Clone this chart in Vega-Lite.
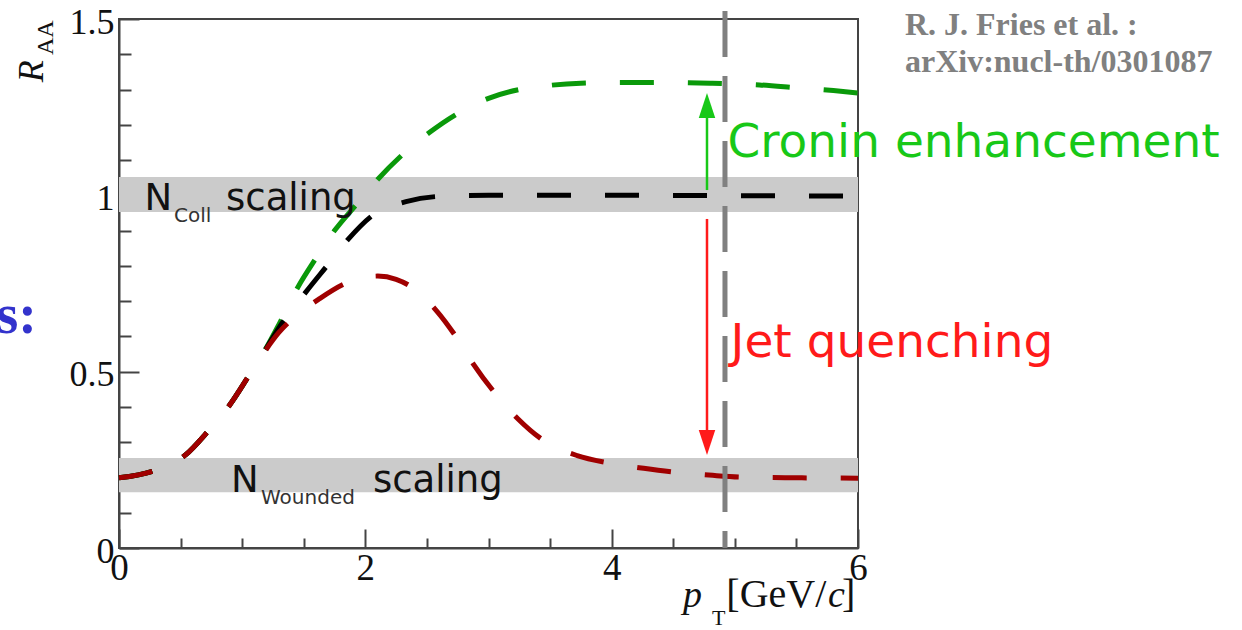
{
  "$schema": "https://vega.github.io/schema/vega-lite/v6.json",
  "width": 739,
  "height": 529,
  "autosize": {"type": "none"},
  "padding": {"left": 119, "top": 19, "right": 384, "bottom": 82},
  "background": "white",
  "config": {
    "view": {"stroke": "#444444", "strokeWidth": 2},
    "axis": {"grid": false, "domainColor": "#444444", "domainWidth": 2, "tickColor": "#444444", "tickWidth": 2, "labelFont": "Liberation Serif", "labelColor": "#111111", "title": null, "labelFlush": false, "labelOverlap": false}
  },
  "datasets": {
    "bands": [
      {"band": "coll", "x0": 0, "x1": 6, "y0": 0.953, "y1": 1.052},
      {"band": "wounded", "x0": 0, "x1": 6, "y0": 0.158, "y1": 0.255}
    ],
    "curves": [
      {"s": "cronin", "x": 0, "y": 0.199}, {"s": "cronin", "x": 0.29, "y": 0.22}, {"s": "cronin", "x": 0.54, "y": 0.264}, {"s": "cronin", "x": 0.72, "y": 0.33}, {"s": "cronin", "x": 0.9, "y": 0.406}, {"s": "cronin", "x": 1.05, "y": 0.486}, {"s": "cronin", "x": 1.15, "y": 0.54}, {"s": "cronin", "x": 1.3, "y": 0.635}, {"s": "cronin", "x": 1.45, "y": 0.738}, {"s": "cronin", "x": 1.6, "y": 0.822}, {"s": "cronin", "x": 1.75, "y": 0.9}, {"s": "cronin", "x": 1.93, "y": 0.975}, {"s": "cronin", "x": 2.1, "y": 1.045}, {"s": "cronin", "x": 2.3, "y": 1.115}, {"s": "cronin", "x": 2.52, "y": 1.178}, {"s": "cronin", "x": 2.75, "y": 1.232}, {"s": "cronin", "x": 3.0, "y": 1.275}, {"s": "cronin", "x": 3.25, "y": 1.3}, {"s": "cronin", "x": 3.5, "y": 1.312}, {"s": "cronin", "x": 3.75, "y": 1.318}, {"s": "cronin", "x": 4.1, "y": 1.32}, {"s": "cronin", "x": 4.4, "y": 1.32}, {"s": "cronin", "x": 4.8, "y": 1.318}, {"s": "cronin", "x": 5.2, "y": 1.313}, {"s": "cronin", "x": 5.5, "y": 1.305}, {"s": "cronin", "x": 5.8, "y": 1.297}, {"s": "cronin", "x": 6.0, "y": 1.29},
      {"s": "ncoll", "x": 0, "y": 0.199}, {"s": "ncoll", "x": 0.29, "y": 0.22}, {"s": "ncoll", "x": 0.54, "y": 0.264}, {"s": "ncoll", "x": 0.72, "y": 0.33}, {"s": "ncoll", "x": 0.9, "y": 0.406}, {"s": "ncoll", "x": 1.05, "y": 0.486}, {"s": "ncoll", "x": 1.15, "y": 0.54}, {"s": "ncoll", "x": 1.3, "y": 0.625}, {"s": "ncoll", "x": 1.52, "y": 0.727}, {"s": "ncoll", "x": 1.7, "y": 0.805}, {"s": "ncoll", "x": 1.86, "y": 0.875}, {"s": "ncoll", "x": 2.07, "y": 0.946}, {"s": "ncoll", "x": 2.33, "y": 0.982}, {"s": "ncoll", "x": 2.6, "y": 0.997}, {"s": "ncoll", "x": 3.0, "y": 1.0}, {"s": "ncoll", "x": 4.0, "y": 1.0}, {"s": "ncoll", "x": 5.0, "y": 0.999}, {"s": "ncoll", "x": 6.0, "y": 0.998},
      {"s": "nwound", "x": 0, "y": 0.199}, {"s": "nwound", "x": 0.29, "y": 0.22}, {"s": "nwound", "x": 0.54, "y": 0.264}, {"s": "nwound", "x": 0.72, "y": 0.33}, {"s": "nwound", "x": 0.9, "y": 0.406}, {"s": "nwound", "x": 1.05, "y": 0.486}, {"s": "nwound", "x": 1.15, "y": 0.54}, {"s": "nwound", "x": 1.3, "y": 0.612}, {"s": "nwound", "x": 1.45, "y": 0.662}, {"s": "nwound", "x": 1.62, "y": 0.705}, {"s": "nwound", "x": 1.85, "y": 0.752}, {"s": "nwound", "x": 2.1, "y": 0.771}, {"s": "nwound", "x": 2.25, "y": 0.762}, {"s": "nwound", "x": 2.38, "y": 0.739}, {"s": "nwound", "x": 2.58, "y": 0.672}, {"s": "nwound", "x": 2.75, "y": 0.592}, {"s": "nwound", "x": 2.88, "y": 0.52}, {"s": "nwound", "x": 3.06, "y": 0.436}, {"s": "nwound", "x": 3.24, "y": 0.366}, {"s": "nwound", "x": 3.46, "y": 0.302}, {"s": "nwound", "x": 3.72, "y": 0.262}, {"s": "nwound", "x": 3.98, "y": 0.241}, {"s": "nwound", "x": 4.26, "y": 0.226}, {"s": "nwound", "x": 4.54, "y": 0.214}, {"s": "nwound", "x": 4.82, "y": 0.206}, {"s": "nwound", "x": 5.07, "y": 0.201}, {"s": "nwound", "x": 5.5, "y": 0.199}, {"s": "nwound", "x": 6.0, "y": 0.198}
    ],
    "refline": [{"x": 4.92, "y": 1.523, "y2": 0.0}],
    "arrows": [
      {"a": "cronin", "x": 4.774, "y": 1.015, "y2": 1.225, "tip": 1.29},
      {"a": "jet", "x": 4.774, "y": 0.933, "y2": 0.33, "tip": 0.264}
    ],
    "texts": [
      {"g": "main", "t": "N", "x": 0.207, "y": 0.958},
      {"g": "main", "t": "scaling", "x": 0.869, "y": 0.958},
      {"g": "main", "t": "N", "x": 0.909, "y": 0.159},
      {"g": "main", "t": "scaling", "x": 2.062, "y": 0.159},
      {"g": "sub", "t": "Coll", "x": 0.447, "y": 0.924},
      {"g": "sub", "t": "Wounded", "x": 1.153, "y": 0.125},
      {"g": "cronin", "t": "Cronin enhancement", "x": 4.94, "y": 1.109},
      {"g": "jet", "t": "Jet quenching", "x": 4.965, "y": 0.542},
      {"g": "ref", "t": "R. J. Fries et al. :", "x": 6.381, "y": 1.455},
      {"g": "ref", "t": "arXiv:nucl-th/0301087", "x": 6.381, "y": 1.35},
      {"g": "blue", "t": "ss:", "x": -0.666, "y": 0.61},
      {"g": "ytitle", "t": "R", "x": -0.617, "y": 1.321},
      {"g": "ytitlesub", "t": "AA", "x": -0.536, "y": 1.398},
      {"g": "xital", "t": "p", "x": 4.579, "y": -0.1673},
      {"g": "xital", "t": "c", "x": 5.756, "y": -0.1673},
      {"g": "xreg", "t": "[GeV/", "x": 4.931, "y": -0.1673},
      {"g": "xreg", "t": "]", "x": 5.87, "y": -0.1673},
      {"g": "xsub", "t": "T", "x": 4.815, "y": -0.218}
    ]
  },
  "layer": [
    {
      "data": {"name": "bands"},
      "mark": {"type": "rect", "color": "#cbcbcb"},
      "encoding": {
        "x": {"field": "x0", "type": "quantitative", "scale": {"domain": [0, 6], "nice": false, "zero": false},
              "axis": {"orient": "bottom", "values": [0, 2, 4, 6], "ticks": false, "domain": true, "labelFontSize": 37, "labelPadding": 2, "format": "~g"}},
        "x2": {"field": "x1"},
        "y": {"field": "y0", "type": "quantitative", "scale": {"domain": [0, 1.5], "nice": false, "zero": false},
              "axis": {"orient": "left", "values": [0, 0.5, 1, 1.5], "ticks": false, "domain": true, "labelFontSize": 36, "labelPadding": 5, "labelOffset": 3, "format": "~g"}},
        "y2": {"field": "y1"}
      }
    },
    {
      "data": {"name": "curves"},
      "transform": [{"filter": "datum.s == 'cronin'"}],
      "mark": {"type": "line", "interpolate": "monotone", "color": "#0a990a", "strokeWidth": 5, "strokeDash": [34, 34]},
      "encoding": {
        "x": {"field": "x", "type": "quantitative", "scale": {"domain": [0, 6], "nice": false, "zero": false},
              "axis": {"orient": "bottom", "values": [0, 2, 4, 6], "labels": false, "domain": false, "tickSize": -19}},
        "y": {"field": "y", "type": "quantitative", "scale": {"domain": [0, 1.5], "nice": false, "zero": false},
              "axis": {"orient": "left", "values": [0, 0.5, 1, 1.5], "labels": false, "domain": false, "tickSize": -20}}
      }
    },
    {
      "data": {"name": "curves"},
      "transform": [{"filter": "datum.s == 'ncoll'"}],
      "mark": {"type": "line", "interpolate": "monotone", "color": "#000000", "strokeWidth": 5, "strokeDash": [34, 34]},
      "encoding": {
        "x": {"field": "x", "type": "quantitative", "scale": {"domain": [0, 6], "nice": false, "zero": false},
              "axis": {"orient": "bottom", "values": [0.5, 1, 1.5, 2.5, 3, 3.5, 4.5, 5, 5.5], "labels": false, "domain": false, "tickSize": -10}},
        "y": {"field": "y", "type": "quantitative", "scale": {"domain": [0, 1.5], "nice": false, "zero": false},
              "axis": {"orient": "left", "values": [0.1, 0.2, 0.3, 0.4, 0.6, 0.7, 0.8, 0.9, 1.1, 1.2, 1.3, 1.4], "labels": false, "domain": false, "tickSize": -12}}
      }
    },
    {
      "data": {"name": "curves"},
      "transform": [{"filter": "datum.s == 'nwound'"}],
      "mark": {"type": "line", "interpolate": "monotone", "color": "#a00000", "strokeWidth": 5, "strokeDash": [34, 34]},
      "encoding": {
        "x": {"field": "x", "type": "quantitative", "axis": null},
        "y": {"field": "y", "type": "quantitative", "axis": null}
      }
    },
    {
      "data": {"name": "refline"},
      "mark": {"type": "rule", "color": "#808080", "strokeWidth": 5, "strokeDash": [46, 19]},
      "encoding": {
        "x": {"field": "x", "type": "quantitative", "axis": null},
        "y": {"field": "y", "type": "quantitative", "axis": null},
        "y2": {"field": "y2"}
      }
    },
    {
      "data": {"name": "arrows"},
      "transform": [{"filter": "datum.a == 'cronin'"}],
      "layer": [
        {"mark": {"type": "rule", "color": "#18c818", "strokeWidth": 2.5},
         "encoding": {"x": {"field": "x", "type": "quantitative", "axis": null}, "y": {"field": "y", "type": "quantitative", "axis": null}, "y2": {"field": "y2"}}},
        {"mark": {"type": "point", "shape": "M0,0L-0.33,1L0.33,1Z", "filled": true, "color": "#18c818", "opacity": 1, "size": 2500, "strokeWidth": 0},
         "encoding": {"x": {"field": "x", "type": "quantitative", "axis": null}, "y": {"field": "tip", "type": "quantitative", "axis": null}}}
      ]
    },
    {
      "data": {"name": "arrows"},
      "transform": [{"filter": "datum.a == 'jet'"}],
      "layer": [
        {"mark": {"type": "rule", "color": "#ff1a1a", "strokeWidth": 2.5},
         "encoding": {"x": {"field": "x", "type": "quantitative", "axis": null}, "y": {"field": "y", "type": "quantitative", "axis": null}, "y2": {"field": "y2"}}},
        {"mark": {"type": "point", "shape": "M0,0L-0.33,-1L0.33,-1Z", "filled": true, "color": "#ff1a1a", "opacity": 1, "size": 2500, "strokeWidth": 0},
         "encoding": {"x": {"field": "x", "type": "quantitative", "axis": null}, "y": {"field": "tip", "type": "quantitative", "axis": null}}}
      ]
    },
    {
      "data": {"name": "texts"},
      "transform": [{"filter": "datum.g == 'main'"}],
      "mark": {"type": "text", "font": "DejaVu Sans", "fontSize": 37, "color": "#111111", "align": "left", "baseline": "alphabetic"},
      "encoding": {"x": {"field": "x", "type": "quantitative", "axis": null}, "y": {"field": "y", "type": "quantitative", "axis": null}, "text": {"field": "t"}}
    },
    {
      "data": {"name": "texts"},
      "transform": [{"filter": "datum.g == 'sub'"}],
      "mark": {"type": "text", "font": "DejaVu Sans", "fontSize": 20, "color": "#333333", "align": "left", "baseline": "alphabetic"},
      "encoding": {"x": {"field": "x", "type": "quantitative", "axis": null}, "y": {"field": "y", "type": "quantitative", "axis": null}, "text": {"field": "t"}}
    },
    {
      "data": {"name": "texts"},
      "transform": [{"filter": "datum.g == 'cronin'"}],
      "mark": {"type": "text", "font": "DejaVu Sans", "fontSize": 47, "color": "#18c818", "align": "left", "baseline": "alphabetic"},
      "encoding": {"x": {"field": "x", "type": "quantitative", "axis": null}, "y": {"field": "y", "type": "quantitative", "axis": null}, "text": {"field": "t"}}
    },
    {
      "data": {"name": "texts"},
      "transform": [{"filter": "datum.g == 'jet'"}],
      "mark": {"type": "text", "font": "DejaVu Sans", "fontSize": 47, "color": "#ff1a1a", "align": "left", "baseline": "alphabetic"},
      "encoding": {"x": {"field": "x", "type": "quantitative", "axis": null}, "y": {"field": "y", "type": "quantitative", "axis": null}, "text": {"field": "t"}}
    },
    {
      "data": {"name": "texts"},
      "transform": [{"filter": "datum.g == 'ref'"}],
      "mark": {"type": "text", "font": "Liberation Serif", "fontWeight": "bold", "fontSize": 32, "color": "#808080", "align": "left", "baseline": "alphabetic"},
      "encoding": {"x": {"field": "x", "type": "quantitative", "axis": null}, "y": {"field": "y", "type": "quantitative", "axis": null}, "text": {"field": "t"}}
    },
    {
      "data": {"name": "texts"},
      "transform": [{"filter": "datum.g == 'blue'"}],
      "mark": {"type": "text", "font": "Liberation Serif", "fontWeight": "bold", "fontSize": 56, "color": "#3333cc", "align": "right", "baseline": "alphabetic"},
      "encoding": {"x": {"field": "x", "type": "quantitative", "axis": null}, "y": {"field": "y", "type": "quantitative", "axis": null}, "text": {"field": "t"}}
    },
    {
      "data": {"name": "texts"},
      "transform": [{"filter": "datum.g == 'ytitle'"}],
      "mark": {"type": "text", "font": "Liberation Serif", "fontStyle": "italic", "fontSize": 36, "color": "#111111", "align": "left", "baseline": "alphabetic", "angle": 270},
      "encoding": {"x": {"field": "x", "type": "quantitative", "axis": null}, "y": {"field": "y", "type": "quantitative", "axis": null}, "text": {"field": "t"}}
    },
    {
      "data": {"name": "texts"},
      "transform": [{"filter": "datum.g == 'ytitlesub'"}],
      "mark": {"type": "text", "font": "Liberation Serif", "fontSize": 24, "color": "#111111", "align": "left", "baseline": "alphabetic", "angle": 270},
      "encoding": {"x": {"field": "x", "type": "quantitative", "axis": null}, "y": {"field": "y", "type": "quantitative", "axis": null}, "text": {"field": "t"}}
    },
    {
      "data": {"name": "texts"},
      "transform": [{"filter": "datum.g == 'xital'"}],
      "mark": {"type": "text", "font": "Liberation Serif", "fontStyle": "italic", "fontSize": 38, "color": "#111111", "align": "left", "baseline": "alphabetic"},
      "encoding": {"x": {"field": "x", "type": "quantitative", "axis": null}, "y": {"field": "y", "type": "quantitative", "axis": null}, "text": {"field": "t"}}
    },
    {
      "data": {"name": "texts"},
      "transform": [{"filter": "datum.g == 'xreg'"}],
      "mark": {"type": "text", "font": "Liberation Serif", "fontSize": 40, "color": "#111111", "align": "left", "baseline": "alphabetic"},
      "encoding": {"x": {"field": "x", "type": "quantitative", "axis": null}, "y": {"field": "y", "type": "quantitative", "axis": null}, "text": {"field": "t"}}
    },
    {
      "data": {"name": "texts"},
      "transform": [{"filter": "datum.g == 'xsub'"}],
      "mark": {"type": "text", "font": "Liberation Serif", "fontSize": 22, "color": "#111111", "align": "left", "baseline": "alphabetic"},
      "encoding": {"x": {"field": "x", "type": "quantitative", "axis": null}, "y": {"field": "y", "type": "quantitative", "axis": null}, "text": {"field": "t"}}
    }
  ],
  "resolve": {"axis": {"x": "independent", "y": "independent"}}
}
